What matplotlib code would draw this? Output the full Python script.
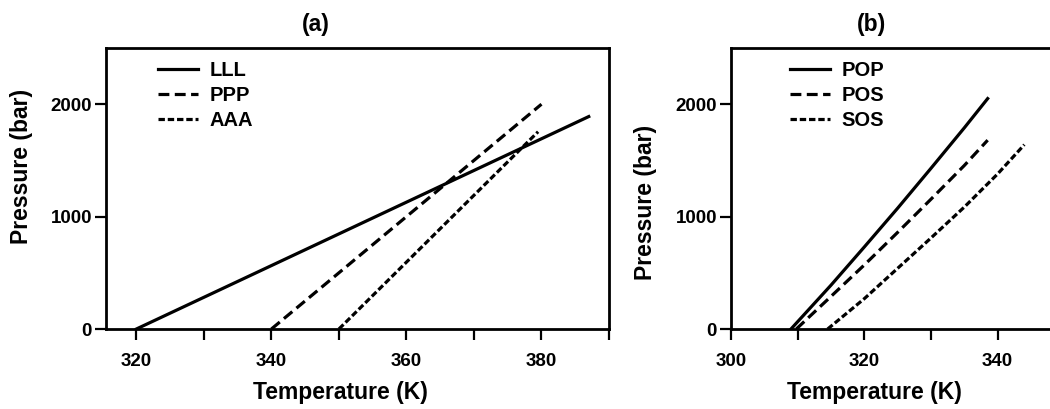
import matplotlib
matplotlib.use('Agg')
import matplotlib.pyplot as plt
from matplotlib.ticker import MultipleLocator

plt.rcParams['font.family'] = ['Liberation Sans', 'DejaVu Sans']

# panel (a): pure triglycerides
temp_lll = [320, 387]
pres_lll = [0, 1890]
temp_ppp = [340, 380]
pres_ppp = [0, 2000]
temp_aaa = [350, 379.5]
pres_aaa = [0, 1755]

# panel (b): mixed triglycerides
temp_pop = [309, 315, 320, 325, 330, 335, 338.5]
pres_pop = [0, 390, 730, 1075, 1430, 1790, 2050]
temp_pos = [309.8, 315, 320, 325, 330, 335, 338.5]
pres_pos = [0, 290, 570, 860, 1155, 1455, 1680]
temp_sos = [314.5, 320, 325, 330, 335, 340, 344]
pres_sos = [0, 270, 540, 810, 1085, 1380, 1640]

W, H = 1050, 409
fig = plt.figure(figsize=(W / 100, H / 100), dpi=100)

ax_a = fig.add_axes([106 / W, (H - 329) / H, 503 / W, 281 / H])
ax_b = fig.add_axes([731 / W, (H - 329) / H, 320 / W, 281 / H])

lw = 2.3
dash_long = (0, (3.4, 1.7))
dash_short = (0, (2.0, 0.9))
weight = 'bold'


def style_axes(ax, xlim, title, title_x, ylab_x, ylab_y, xlab_x):
    ax.set_xlim(*xlim)
    ax.set_ylim(0, 2500)
    ax.xaxis.set_major_locator(MultipleLocator(20))
    ax.xaxis.set_minor_locator(MultipleLocator(10))
    ax.set_yticks([0, 1000, 2000])
    ax.tick_params(which='both', direction='out', length=8, width=1.6)
    ax.tick_params(axis='x', which='both', pad=9, labelsize=13.5)
    ax.tick_params(axis='y', pad=2, labelsize=13.5)
    for lab in ax.get_xticklabels() + ax.get_yticklabels():
        lab.set_fontweight(weight)
    for sp in ax.spines.values():
        sp.set_linewidth(2.0)
    ax.set_ylabel('Pressure (bar)', fontsize=16.5, fontweight=weight)
    ax.yaxis.set_label_coords(ylab_x, ylab_y)
    ax.set_xlabel('Temperature (K)', fontsize=16.5, fontweight=weight)
    ax.xaxis.set_label_coords(xlab_x, -0.185)
    ax.text(title_x, 1.082, title, transform=ax.transAxes, ha='center',
            va='center', fontsize=16.5, fontweight=weight)


def add_legend(ax, x):
    leg = ax.legend(loc='upper left', bbox_to_anchor=(x, 0.955), frameon=False,
                    fontsize=14.5, handlelength=2.0, handletextpad=0.55,
                    labelspacing=0.3, borderpad=0, borderaxespad=0)
    for t in leg.get_texts():
        t.set_fontweight(weight)


ax_a.plot(temp_lll, pres_lll, color='black', lw=lw, label='LLL')
ax_a.plot(temp_ppp, pres_ppp, color='black', lw=lw, linestyle=dash_long, label='PPP')
ax_a.plot(temp_aaa, pres_aaa, color='black', lw=lw, linestyle=dash_short, label='AAA')
style_axes(ax_a, (315.5, 390), '(a)', 0.417, -0.145, 0.577, 0.467)
add_legend(ax_a, 0.103)

ax_b.plot(temp_pop, pres_pop, color='black', lw=lw, label='POP')
ax_b.plot(temp_pos, pres_pos, color='black', lw=lw, linestyle=dash_long, label='POS')
ax_b.plot(temp_sos, pres_sos, color='black', lw=lw, linestyle=dash_short, label='SOS')
style_axes(ax_b, (300, 348), '(b)', 0.44, -0.231, 0.452, 0.447)
ax_b.spines['right'].set_visible(False)
add_legend(ax_b, 0.184)

fig.savefig('out.png', dpi=100)
